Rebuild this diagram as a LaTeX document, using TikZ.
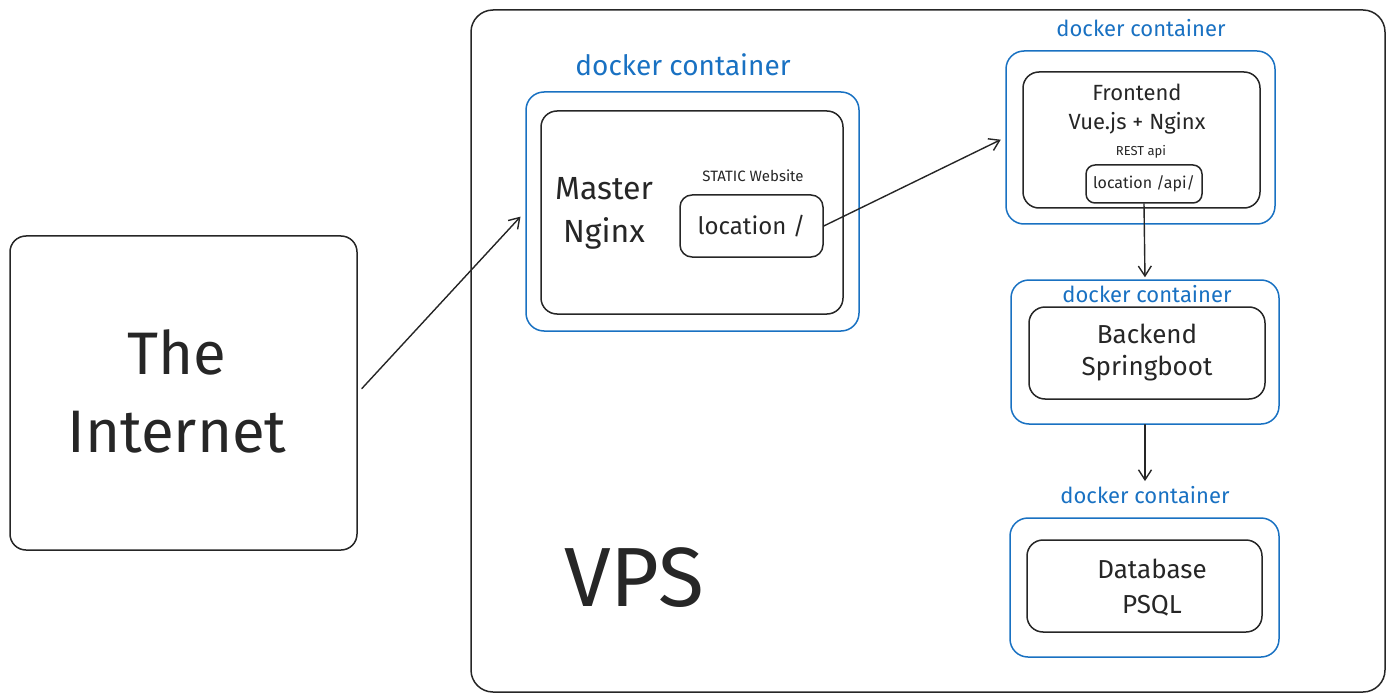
\documentclass[tikz,border=0pt]{standalone}
\usepackage{fontspec}
\setmainfont{Fira Sans}
\usetikzlibrary{arrows.meta}
\definecolor{dockblue}{HTML}{1971C2}
\begin{document}
\begin{tikzpicture}[x=1pt, y=-1pt, line join=round, line cap=round, >={Straight Barb[length=10pt,width=13pt]}]
	\tikzset{every node/.style={inner sep=0pt, align=center, text=black!85},
		box/.style={draw=black!85, line width=1.5pt, rounded corners=16pt},
		dock/.style={draw=dockblue, line width=1.5pt, rounded corners=18pt},
		docklabel/.style={text=dockblue, font={\fontsize{22}{24}\selectfont}},
		conn/.style={->, line width=1.4pt, draw=black!85}}
	\useasboundingbox (0,0) rectangle (1392,695);
	%VPS
	\node[box, rounded corners=22pt, minimum width=914pt, minimum height=682pt] (vps) at (928,351) {};
	\node[font={\fontsize{84}{86}\selectfont}] (vpstxt) at (634,578) {VPS};
	%The Internet
	\node[box, minimum width=347pt, minimum height=314pt] (inet) at (183.5,393) {};
	\node[font={\fontsize{60}{78}\selectfont}] (inettxt) at (177,391) {The\\Internet};
	%Master Nginx
	\node[docklabel, font={\fontsize{28}{30}\selectfont}] (dlabela) at (683,65) {docker container};
	\node[dock, minimum width=333pt, minimum height=239pt] (docka) at (692.5,211.5) {};
	\node[box, minimum width=302pt, minimum height=203pt] (master) at (692,212.5) {};
	\node[font={\fontsize{32}{43}\selectfont}] (mastertxt) at (604,213) {Master\\Nginx};
	\node[font={\fontsize{15}{16}\selectfont}] (static) at (753,176) {STATIC Website};
	\node[box, rounded corners=12pt, minimum width=143pt, minimum height=62pt, font={\fontsize{24}{26}\selectfont}] (loc) at (751.5,226) {location /};
	%Frontend
	\node[docklabel] (dlabelb) at (1141,28) {docker container};
	\node[dock, minimum width=269pt, minimum height=173pt] (dockb) at (1140.5,137.5) {};
	\node[box, minimum width=237pt, minimum height=136pt] (front) at (1141.5,140) {};
	\node[font={\fontsize{22}{29}\selectfont}] (fronttxt) at (1137,109.5) {Frontend\\Vue.js + Nginx};
	\node[font={\fontsize{13}{14}\selectfont}] (rest) at (1141,152) {REST api};
	\node[box, rounded corners=9pt, minimum width=116pt, minimum height=38pt, font={\fontsize{16}{18}\selectfont}] (locapi) at (1144,184) {location /api/};
	%Backend
	\node[dock, minimum width=268pt, minimum height=144pt] (dockc) at (1145,352) {};
	\node[docklabel] (dlabelc) at (1147,294) {docker container};
	\node[box, minimum width=236pt, minimum height=92pt, font={\fontsize{26}{32}\selectfont}] (back) at (1147,353) {Backend\\Springboot};
	%Database
	\node[docklabel] (dlabeld) at (1145,495) {docker container};
	\node[dock, minimum width=269pt, minimum height=139pt] (dockd) at (1144.5,587.5) {};
	\node[box, minimum width=235pt, minimum height=92pt] (db) at (1144.5,586) {};
	\node[font={\fontsize{26}{35}\selectfont}] (dbtxt) at (1152,587.5) {Database\\PSQL};
	%Connectors
	\draw[conn, shorten <=6pt, shorten >=7pt] (inet.east) -- (docka.west);
	\draw[conn, shorten >=5pt] (loc.east) -- (dockb.west);
	\draw[conn, shorten >=2pt] (locapi.south) -- (dockc.north);
	\draw[conn, shorten >=5pt] (dockc.south) -- (dlabeld.north);
\end{tikzpicture}
\end{document}
